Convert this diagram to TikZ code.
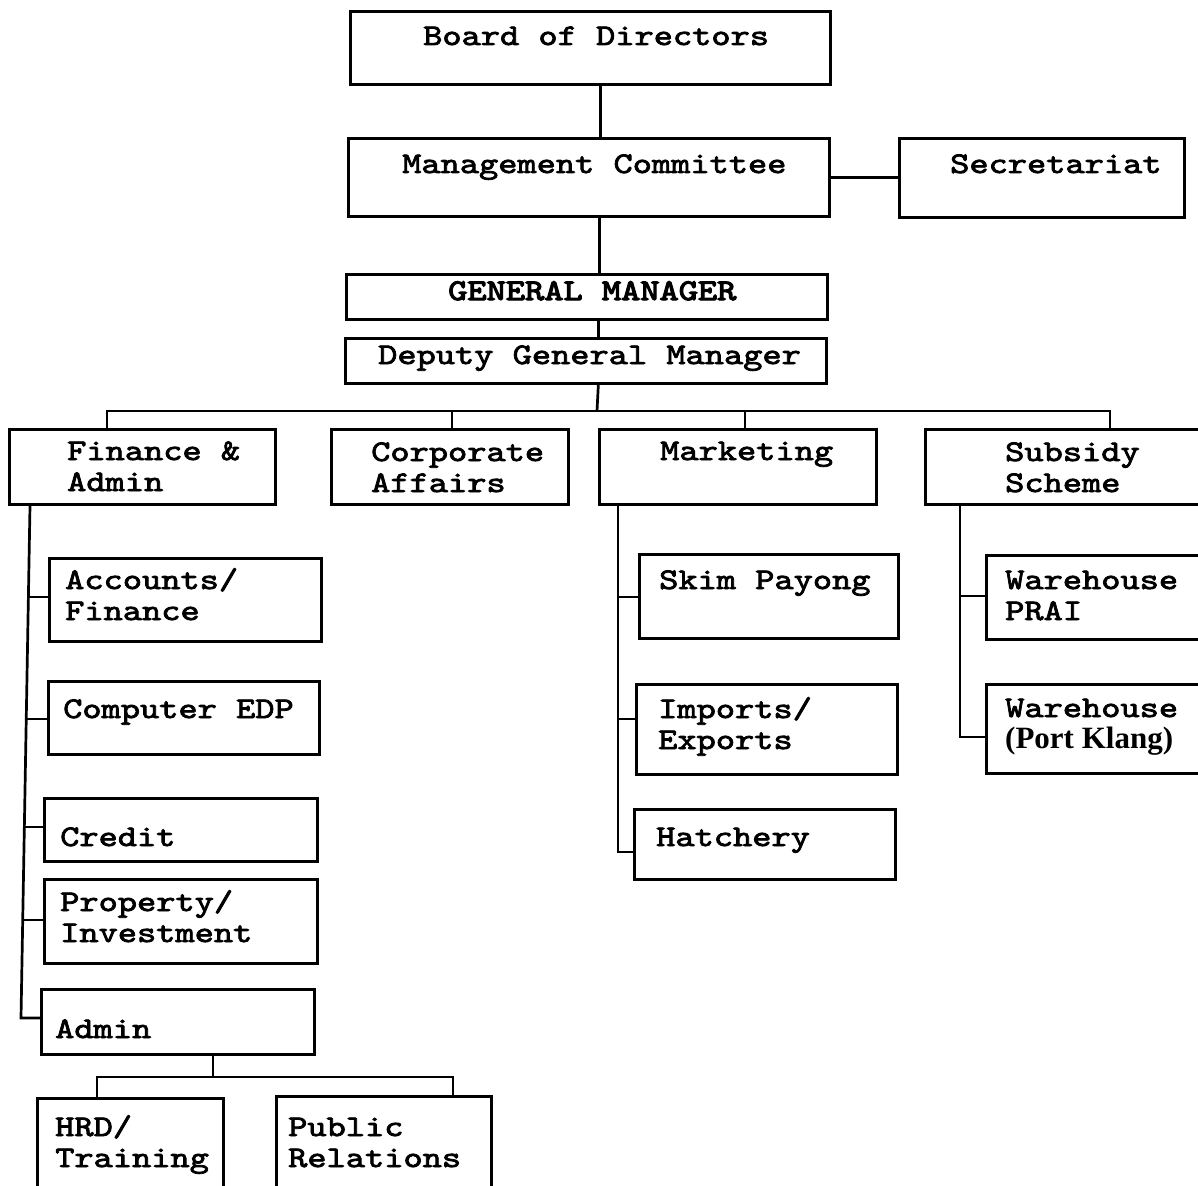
\documentclass[tikz,border=0pt]{standalone}
\usepackage{fontspec}
\newfontfamily\orgtt{lmmono10-regular}[Extension=.otf, FakeStretch=1.22, FakeBold=2.6]
\newfontfamily\orgserif{Liberation Serif}
\newcommand\orgfont{\orgtt\fontsize{30}{31}\selectfont}
\newcommand\orgprop{\orgserif\bfseries\fontsize{31}{31}\selectfont}
% box: #1 name, #2 left, #3 top, #4 width, #5 height (pt, y grows downward)
\newcommand\orgbox[5]{\node[box, minimum width=#4pt, minimum height=#5pt] (#1) at (#2,#3) {};}
\begin{document}
\begin{tikzpicture}[x=1pt,y=-1pt,
  box/.style={draw, line width=2.7pt, rectangle, inner sep=0pt, anchor=north west},
  wire/.style={draw, line width=2.7pt},
  lbl/.style={font=\orgfont, anchor=base west, align=left, inner sep=0pt}]
\path[use as bounding box] (0,0) rectangle (1198,1185);
\clip (0,0) rectangle (1198,1185);

% top of the chart
\orgbox{board}{349}{10}{480}{73}
\orgbox{mgmt}{347}{137}{481}{78}
\orgbox{sec}{898}{137}{285}{79}
\orgbox{gm}{345}{273}{481}{45}
\orgbox{dgm}{344}{337}{481}{45}

% divisions
\orgbox{fin}{8}{428}{266}{75}
\orgbox{corp}{330}{428}{237}{75}
\orgbox{mkt}{598}{428}{277}{75}
\orgbox{sub}{924}{428}{300}{75}

% finance & admin units
\orgbox{acc}{48}{557}{272}{83}
\orgbox{edp}{47}{680}{271}{73}
\orgbox{cred}{43}{797}{273}{63}
\orgbox{prop}{43}{878}{273}{84}
\orgbox{adm}{40}{988}{273}{65}
\orgbox{hrd}{36}{1097}{186}{110}
\orgbox{pr}{275}{1095}{215}{110}

% marketing units
\orgbox{skim}{638}{553}{259}{84}
\orgbox{imp}{635}{683}{261}{90}
\orgbox{hat}{633}{808}{261}{70}

% subsidy scheme units
\orgbox{wp}{985}{554}{240}{84}
\orgbox{wk}{985}{683}{240}{89}

% labels (two-line labels are placed by the baseline of their last line)
\node[lbl] (board-t) at (423,45) {Board of Directors};
\node[lbl] (mgmt-t) at (402,173) {Management Committee};
\node[lbl] (sec-t) at (950,173) {Secretariat};
\node[lbl, font=\orgfont\addfontfeature{FakeBold=4}] (gm-t) at (448,300) {GENERAL MANAGER};
\node[lbl] (dgm-t) at (378,364) {Deputy General Manager};
\node[lbl] (fin-t) at (67,491) {Finance \&\\Admin};
\node[lbl] (corp-t) at (371,492) {Corporate\\Affairs};
\node[lbl] (mkt-t) at (660,460) {Marketing};
\node[lbl] (sub-t) at (1005,492) {Subsidy\\Scheme};
\node[lbl] (acc-t) at (65,620) {Accounts/\\Finance};
\node[lbl] (edp-t) at (63,718) {Computer EDP};
\node[lbl] (cred-t) at (60,846) {Credit};
\node[lbl] (prop-t) at (60,942) {Property/\\Investment};
\node[lbl] (adm-t) at (55,1038) {Admin};
\node[lbl] (hrd-t) at (55,1167) {HRD/\\Training};
\node[lbl] (pr-t) at (288,1167) {Public\\Relations};
\node[lbl] (skim-t) at (659,589) {Skim Payong};
\node[lbl] (imp-t) at (658,749) {Imports/\\Exports};
\node[lbl] (hat-t) at (656,846) {Hatchery};
\node[lbl] (wp-t) at (1005,620) {Warehouse\\PRAI};
\node[lbl] (wk-t) at (1005,748) {Warehouse\\{\orgprop (Port Klang)}};

% upper connectors
\draw[wire] ([xshift=10pt]board.south) -- ([xshift=11.5pt]mgmt.north);
\draw[wire] (mgmt.east) -- (sec.west |- mgmt.east);
\draw[wire] ([xshift=10.5pt]mgmt.south) -- ([xshift=12.5pt]gm.north);
\draw[wire] ([xshift=11.5pt]gm.south) -- ([xshift=12.5pt]dgm.north);

% bus to the divisions
\coordinate (hub) at (597,411);
\coordinate (b1) at (107,411);
\coordinate (b2) at (452,411);
\coordinate (b3) at (745,411);
\coordinate (b4) at (1110,411);
\draw[wire] ([xshift=12.5pt]dgm.south) -- (hub);
\draw[wire] (fin.north -| b1) -- (b1) -- (b4) -- (sub.north -| b4);
\draw[wire] (b2) -- (corp.north -| b2);
\draw[wire] (b3) -- (mkt.north -| b3);

% finance & admin spine
\coordinate (f0) at (30,503);
\coordinate (f5) at (21,1018);
\coordinate (f1) at (28.4,597);
\coordinate (f2) at (26.2,719);
\coordinate (f3) at (24.3,827);
\coordinate (f4) at (22.7,920);
\draw[wire] (fin.south -| f0) -- (f5) -- (adm.west |- f5);
\draw[wire] (f1) -- (acc.west |- f1);
\draw[wire] (f2) -- (edp.west |- f2);
\draw[wire] (f3) -- (cred.west |- f3);
\draw[wire] (f4) -- (prop.west |- f4);

% admin split
\coordinate (ahub) at (213,1077);
\coordinate (a1) at (97,1077);
\coordinate (a2) at (453,1077);
\draw[wire] (adm.south -| ahub) -- (ahub);
\draw[wire] (hrd.north -| a1) -- (a1) -- (a2) -- (pr.north -| a2);

% marketing spine
\coordinate (m0) at (618,503);
\coordinate (m1) at (618,597);
\coordinate (m2) at (618,719);
\coordinate (m3) at (618,852);
\draw[wire] (mkt.south -| m0) -- (m3) -- (hat.west |- m3);
\draw[wire] (m1) -- (skim.west |- m1);
\draw[wire] (m2) -- (imp.west |- m2);

% subsidy spine
\coordinate (s0) at (960,503);
\coordinate (s1) at (960,596);
\coordinate (s2) at (960,737);
\draw[wire] (sub.south -| s0) -- (s2) -- (wk.west |- s2);
\draw[wire] (s1) -- (wp.west |- s1);
\end{tikzpicture}
\end{document}
